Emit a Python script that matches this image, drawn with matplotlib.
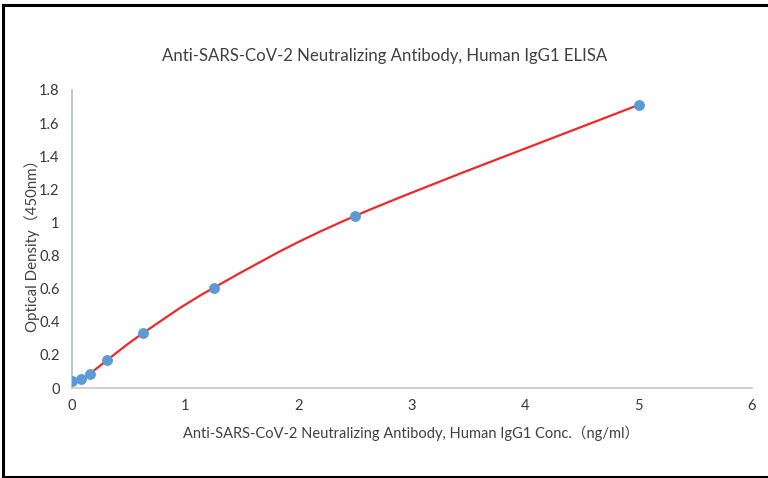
import numpy as np
import matplotlib
matplotlib.use('Agg')
import matplotlib.pyplot as plt
from matplotlib.path import Path
from matplotlib.patches import PathPatch
from matplotlib.lines import Line2D

# standard curve
conc = [0, 0.078, 0.156, 0.3125, 0.625, 1.25, 2.5, 5.0]
od = [0.045, 0.052, 0.085, 0.17, 0.33, 0.605, 1.04, 1.71]

x_ticks = [0, 1, 2, 3, 4, 5, 6]
y_ticks = [0, 0.2, 0.4, 0.6, 0.8, 1, 1.2, 1.4, 1.6, 1.8]
y_tick_labels = ['0', '0.2', '0.4', '0.6', '0.8', '1', '1.2', '1.4', '1.6', '1.8']

title = 'Anti-SARS-CoV-2 Neutralizing Antibody, Human IgG1 ELISA'
xlabel = 'Anti-SARS-CoV-2 Neutralizing Antibody, Human IgG1 Conc.（ng/ml）'
ylabel = 'Optical Density（450nm）'

fonts = ['Lato', 'Noto Sans CJK SC', 'DejaVu Sans']
plt.rcParams['font.family'] = fonts
text_col = '#404040'


def smooth_path(xs, ys):
    # spreadsheet style "smoothed line": cubic bezier through each point
    pts = np.column_stack([xs, ys])
    verts = [pts[0]]
    codes = [Path.MOVETO]
    n = len(pts)
    for i in range(n - 1):
        p0 = pts[i - 1] if i > 0 else pts[i]
        p1 = pts[i]
        p2 = pts[i + 1]
        p3 = pts[i + 2] if i + 2 < n else pts[i + 1]
        c1 = p1 + (p2 - p0) / 6
        c2 = p2 - (p3 - p1) / 6
        verts += [c1, c2, p2]
        codes += [Path.CURVE4] * 3
    return Path(verts, codes)


def main():
    fig = plt.figure(figsize=(7.68, 4.78), dpi=100)
    ax = fig.add_axes([72 / 768, 1 - 388 / 478, 680 / 768, 298 / 478])

    ax.add_patch(PathPatch(smooth_path(conc, od), facecolor='none',
                           edgecolor='#f0282a', lw=1.6, zorder=2))
    ax.plot(conc, od, ls='none', marker='o', ms=6.8, color='#5b9bd5', zorder=3)

    ax.set_xlim(0, 6)
    ax.set_ylim(0, 1.8)
    ax.set_xticks(x_ticks)
    ax.set_yticks(y_ticks)
    ax.set_yticklabels(y_tick_labels)
    ax.tick_params(length=0, labelsize=10.5, colors='#383838')
    ax.tick_params(axis='x', pad=8)
    ax.tick_params(axis='y', pad=9)

    for s in ['top', 'right']:
        ax.spines[s].set_visible(False)
    ax.spines['left'].set_color('#b4bccb')
    ax.spines['bottom'].set_color('#c8c8c8')
    ax.spines['left'].set_linewidth(1.2)
    ax.spines['bottom'].set_linewidth(1.2)

    fig.text(385 / 768, 1 - 56 / 478, title, ha='center', va='center',
             fontsize=12.1, color=text_col)
    fig.text(411 / 768, 1 - 433 / 478, xlabel, ha='center', va='center',
             fontsize=10.5, color=text_col)
    fig.text(32 / 768, 1 - 242 / 478, ylabel, ha='center', va='center',
             rotation=90, fontsize=10.8, color=text_col)

    # black frame of the screenshot
    fig.add_artist(Line2D([3 / 768, 3 / 768], [1 - 5 / 478, 1 - 477 / 478],
                          transform=fig.transFigure, color='black', lw=2.2))
    fig.add_artist(Line2D([3 / 768, 1], [1 - 5 / 478, 1 - 5 / 478],
                          transform=fig.transFigure, color='black', lw=2.2))
    fig.add_artist(Line2D([3 / 768, 1], [1 - 477 / 478, 1 - 477 / 478],
                          transform=fig.transFigure, color='black', lw=2.2))

    fig.savefig('out.png', dpi=100)


if __name__ == "__main__":
    main()
